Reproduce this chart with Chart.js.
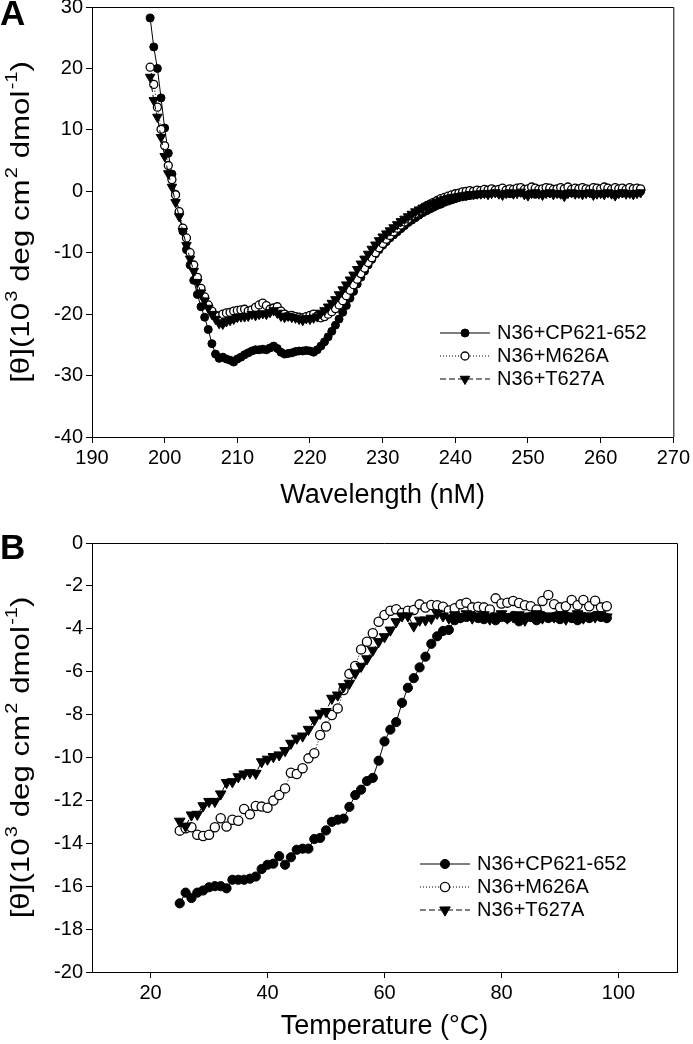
<!DOCTYPE html>
<html>
<head>
<meta charset="utf-8">
<script src="https://cdn.jsdelivr.net/npm/chart.js@4.4.1/dist/chart.umd.min.js"></script>
<style>
    body { margin: 0; background: #fff; width: 693px; height: 1044px; overflow: hidden; position: relative; }
    .panel { position: absolute; left: 0; width: 693px; }
    #boxA { top: -13px; height: 533px; }
    #boxB { top: 520px; height: 524px; }
</style>
</head>
<body>
<div class="panel" id="boxA"><canvas id="chartA"></canvas></div>
<div class="panel" id="boxB"><canvas id="chartB"></canvas></div>
<script>
const seriesNames = ['N36+CP621-652', 'N36+M626A', 'N36+T627A'];

// panel A: CD spectra, 198 - 265.5 nm every 0.5 nm
const wlStart = 198, wlStep = 0.5;
const cpSpectrum = [
    28.2, 23.5, 20.0, 15.2, 10.3, 6.2, 2.8, -0.5, -3.5, -6.5,
    -9.5, -12.0, -14.5, -16.8, -18.8, -20.5, -22.5, -24.8, -26.5, -27.2,
    -27.0, -27.3, -27.5, -27.8, -27.3, -27.0, -26.6, -26.3, -26.0, -25.8,
    -25.8, -25.7, -25.8, -25.5, -25.2, -25.6, -26.2, -26.5, -26.4, -26.3,
    -26.1, -26.0, -26.0, -25.9, -26.0, -26.2, -25.8, -25.2, -24.5, -23.7,
    -22.8, -21.8, -20.8, -19.7, -18.6, -17.4, -16.3, -15.1, -14.0, -13.0,
    -12.0, -11.1, -10.2, -9.5, -8.8, -8.2, -7.6, -7.1, -6.6, -6.1,
    -5.6, -5.1, -4.7, -4.3, -3.9, -3.5, -3.2, -2.9, -2.6, -2.3,
    -2.1, -1.8, -1.6, -1.4, -1.2, -1.0, -0.9, -0.8, -0.7, -0.6,
    -0.5, -0.4, -0.3, -0.3, -0.2, -0.1, -0.3, 0.0, -0.2, -0.4,
    -0.1, 0.1, -0.2, -0.3, 0.0, -0.1, -0.5, -0.2, 0.1, -0.1,
    -0.3, 0.0, -0.2, -0.4, 0.1, -0.1, -0.2, 0.0, -0.3, -0.1,
    0.2, -0.2, -0.4, 0.0, -0.1, -0.3, 0.1, -0.2, -0.1, 0.0,
    -0.3, -0.2, 0.1, -0.1, -0.2, 0.0
];
const m626aSpectrum = [
    20.2, 17.4, 13.7, 10.1, 7.4, 4.2, 1.9, -0.6, -3.3, -6.0,
    -7.6, -10.0, -12.0, -14.0, -15.8, -17.2, -18.5, -19.5, -20.2, -20.3,
    -20.0, -19.8, -19.7, -19.5, -19.4, -19.3, -19.2, -19.5, -19.3, -18.9,
    -18.5, -18.2, -18.6, -19.2, -19.0, -18.8, -19.5, -20.0, -20.3, -20.2,
    -20.4, -20.5, -20.6, -20.4, -20.2, -20.0, -20.3, -20.6, -20.4, -20.0,
    -19.6, -19.1, -18.5, -17.8, -17.0, -16.1, -15.2, -14.3, -13.4, -12.5,
    -11.6, -10.8, -10.0, -9.2, -8.5, -7.8, -7.2, -6.6, -6.0, -5.5,
    -5.0, -4.5, -4.0, -3.6, -3.2, -2.8, -2.4, -2.1, -1.8, -1.5,
    -1.2, -1.0, -0.8, -0.6, -0.4, -0.3, -0.1, 0.0, 0.1, 0.0,
    0.2, 0.1, 0.3, 0.2, 0.4, 0.2, 0.3, 0.5, 0.2, 0.4,
    0.3, 0.5, 0.6, 0.3, 0.4, 0.7, 0.5, 0.3, 0.4, 0.6,
    0.5, 0.3, 0.4, 0.6, 0.4, 0.7, 0.3, 0.5, 0.4, 0.6,
    0.4, 0.3, 0.6, 0.5, 0.4, 0.7, 0.5, 0.3, 0.6, 0.4,
    0.5, 0.3, 0.6, 0.4, 0.5, 0.4
];
const t627aSpectrum = [
    18.6, 14.8, 12.1, 8.8, 5.7, 2.9, 0.7, -1.8, -4.1, -6.5,
    -8.8, -11.0, -13.0, -14.8, -16.5, -17.8, -19.0, -20.0, -20.8, -21.5,
    -21.6, -21.2, -21.0, -20.8, -20.5, -20.4, -20.4, -20.3, -20.0, -20.2,
    -20.0, -19.9, -20.0, -19.7, -19.4, -19.8, -20.3, -20.5, -20.3, -20.5,
    -20.6, -20.8, -21.0, -20.7, -20.8, -20.6, -20.4, -19.8, -19.4, -18.8,
    -18.2, -17.6, -16.8, -16.0, -15.2, -14.4, -13.6, -12.7, -11.8, -11.0,
    -10.2, -9.4, -8.7, -8.0, -7.4, -6.9, -6.4, -5.9, -5.4, -4.9,
    -4.5, -4.1, -3.7, -3.3, -3.0, -2.7, -2.4, -2.1, -1.9, -1.7,
    -1.5, -1.3, -1.1, -1.0, -0.9, -0.8, -0.7, -0.6, -0.5, -0.5,
    -0.4, -0.4, -0.3, -0.5, -0.3, -0.2, -0.4, -0.6, -0.3, -0.2,
    -0.4, -0.3, -0.1, -0.5, -0.7, -0.3, -0.2, -0.4, -0.6, -0.3,
    -0.2, -0.5, -0.3, -0.4, -0.8, -0.3, -0.2, -0.4, -0.3, -0.5,
    -0.3, -0.2, -0.6, -0.4, -0.3, -0.5, -0.2, -0.4, -0.7, -0.3,
    -0.2, -0.4, -0.3, -0.5, -0.3, -0.2
];

// panel B: thermal melts, 25 - 98 C every 1 C
const tempStart = 25, tempStep = 1;
const cpMelt = [
    -16.8, -16.3, -16.55, -16.3, -16.2, -16.05, -16.0, -16.0, -16.1, -15.7,
    -15.7, -15.7, -15.65, -15.55, -15.2, -15.0, -14.95, -14.6, -15.0, -14.65,
    -14.3, -14.25, -14.25, -13.8, -13.75, -13.4, -13.0, -12.9, -12.85, -12.3,
    -11.75, -11.5, -11.1, -10.95, -10.15, -9.25, -8.7, -8.35, -7.45, -6.75,
    -6.3, -5.8, -5.3, -4.7, -4.35, -4.1, -4.05, -3.6, -3.5, -3.45,
    -3.4, -3.5, -3.55, -3.4, -3.6, -3.45, -3.5, -3.4, -3.65, -3.5,
    -3.45, -3.6, -3.4, -3.5, -3.45, -3.55, -3.4, -3.5, -3.6, -3.45,
    -3.5, -3.4, -3.45, -3.5
];
const m626aMelt = [
    -13.41, -13.3, -13.25, -13.6, -13.66, -13.6, -13.25, -12.83, -13.22, -12.9,
    -12.95, -12.4, -12.65, -12.26, -12.29, -12.34, -12.01, -11.75, -11.44, -10.71,
    -10.77, -10.5, -10.04, -9.8, -8.95, -8.56, -8.02, -7.71, -6.85, -6.1,
    -5.73, -4.96, -4.6, -4.21, -3.67, -3.36, -3.16, -3.09, -3.26, -3.16,
    -3.12, -2.86, -3.01, -2.89, -2.9, -2.97, -3.15, -3.04, -2.86, -2.78,
    -3.0, -2.97, -3.0, -3.1, -2.58, -2.82, -2.78, -2.7, -2.8, -2.9,
    -2.95, -3.1, -2.7, -2.42, -2.85, -3.0, -2.95, -2.66, -2.9, -2.66,
    -2.95, -2.69, -3.0, -2.95
];
const t627aMelt = [
    -12.97, -13.2, -12.68, -12.65, -12.25, -12.05, -12.05, -11.7, -11.17, -11.13,
    -10.9, -10.77, -10.71, -10.74, -10.2, -10.08, -9.96, -9.88, -9.68, -9.34,
    -9.1, -9.0, -8.69, -8.25, -7.94, -7.86, -7.24, -7.09, -6.7, -6.54,
    -6.07, -5.75, -5.4, -5.0, -4.6, -4.37, -4.06, -3.67, -3.4, -3.4,
    -3.87, -3.6, -3.59, -3.51, -3.28, -3.4, -3.5, -3.35, -3.45, -3.3,
    -3.5, -3.4, -3.35, -3.55, -3.4, -3.3, -3.5, -3.45, -3.35, -3.6,
    -3.4, -3.3, -3.5, -3.4, -3.45, -3.35, -3.55, -3.4, -3.3, -3.5,
    -3.4, -3.45, -3.35, -3.45
];

const ticksAx = [190, 200, 210, 220, 230, 240, 250, 260, 270];
const ticksAy = [-40, -30, -20, -10, 0, 10, 20, 30];
const ticksBx = [20, 40, 60, 80, 100];
const ticksBy = [-20, -18, -16, -14, -12, -10, -8, -6, -4, -2, 0];

// y title pieces: [text, superscript?]
const yTitleParts = [['[\u03B8](10', false], ['3', true], [' deg cm', false], ['2', true], [' dmol', false], ['-1', true], [')', false]];
const FONT = '"Liberation Sans", Arial, Helvetica, sans-serif';

function toPoints(start, step, values) {
    return values.map((v, i) => ({ x: start + i * step, y: v }));
}

function makeDatasets(series, start, step, r) {
    return [
        {
            label: seriesNames[0], data: toPoints(start, step, series[0]), order: 3,
            borderColor: '#000', borderWidth: 1, pointStyle: 'circle', pointRadius: r,
            pointBackgroundColor: '#000', pointBorderColor: '#000', pointBorderWidth: 1
        },
        {
            label: seriesNames[1], data: toPoints(start, step, series[1]), order: 2,
            borderColor: '#000', borderWidth: 1, borderDash: [1, 2], pointStyle: 'circle', pointRadius: r,
            pointBackgroundColor: '#fff', pointBorderColor: '#000', pointBorderWidth: 1.3
        },
        {
            label: seriesNames[2], data: toPoints(start, step, series[2]), order: 1,
            borderColor: '#000', borderWidth: 1, borderDash: [6, 3], pointStyle: 'triangle', rotation: 180,
            pointRadius: r + 1.5, pointBackgroundColor: '#000', pointBorderColor: '#000', pointBorderWidth: 1
        }
    ];
}

function drawYTitle(ctx, cx, cy) {
    const big = '25px ' + FONT, small = '16px ' + FONT;
    const stretch = 1.25;
    let total = 0;
    yTitleParts.forEach(([t, sup]) => { ctx.font = sup ? small : big; total += ctx.measureText(t).width + (sup ? 1 : 0); });
    ctx.save();
    ctx.translate(cx, cy);
    ctx.rotate(-Math.PI / 2);
    ctx.scale(stretch, 1);
    ctx.textBaseline = 'middle';
    let x = -total / 2;
    yTitleParts.forEach(([t, sup]) => {
        ctx.font = sup ? small : big;
        ctx.fillText(t, x + (sup ? 1 : 0), sup ? -9 : 0);
        x += ctx.measureText(t).width + (sup ? 1 : 0);
    });
    ctx.restore();
}

const overlay = {
    id: 'overlay',
    afterDraw(chart, args, o) {
        const { ctx, chartArea: a } = chart;
        ctx.save();
        ctx.strokeStyle = '#000';
        ctx.lineWidth = 1;
        ctx.beginPath();
        ctx.moveTo(a.left, a.top + 0.5);
        ctx.lineTo(a.right + 0.5, a.top + 0.5);
        ctx.lineTo(a.right + 0.5, a.bottom);
        ctx.stroke();

        ctx.fillStyle = '#000';
        drawYTitle(ctx, 22, (a.top + a.bottom) / 2);

        // panel letter
        ctx.font = 'bold 35px ' + FONT;
        ctx.textBaseline = 'alphabetic';
        ctx.fillText(o.letter, 0, o.letterY);

        // legend: line sample, marker, label
        ctx.font = '20px ' + FONT;
        ctx.textBaseline = 'middle';
        chart.data.datasets.forEach((ds, i) => {
            const y = o.legendY + i * 23;
            ctx.setLineDash(ds.borderDash || []);
            ctx.lineWidth = 1;
            ctx.strokeStyle = '#000';
            ctx.beginPath();
            ctx.moveTo(o.legendX, y);
            ctx.lineTo(o.legendX + 50, y);
            ctx.stroke();
            ctx.setLineDash([]);
            ctx.fillStyle = ds.pointBackgroundColor;
            ctx.strokeStyle = ds.pointBorderColor;
            ctx.lineWidth = ds.pointBorderWidth;
            Chart.helpers.drawPoint(ctx, {
                pointStyle: ds.pointStyle, rotation: ds.rotation || 0,
                radius: ds.pointRadius, borderWidth: ds.pointBorderWidth
            }, o.legendX + 25, y);
            ctx.fillStyle = '#000';
            ctx.fillText(ds.label, o.legendX + 57, y);
        });
        ctx.restore();
    }
};

function axis(min, max, tickValues, title, titlePad, fit) {
    return {
        type: 'linear', min: min, max: max,
        afterBuildTicks: s => { s.ticks = tickValues.map(v => ({ value: v })); },
        afterFit: fit,
        ticks: { color: '#000', font: { family: FONT, size: 20 }, padding: 3, callback: v => String(v) },
        grid: { drawOnChartArea: false, tickLength: 6, color: '#000' },
        border: { color: '#000', width: 1 },
        title: { display: !!title, text: title, color: '#000', font: { family: FONT, size: 27 }, padding: titlePad }
    };
}

function makePanel(canvasId, datasets, x, y, padTop, overlayOpts) {
    return new Chart(document.getElementById(canvasId), {
        type: 'line',
        data: { datasets: datasets },
        options: {
            responsive: true,
            maintainAspectRatio: false,
            animation: false,
            layout: { padding: { top: padTop, right: 16, left: 0, bottom: 0 } },
            plugins: { legend: { display: false }, tooltip: { enabled: false }, overlay: overlayOpts },
            scales: { x: x, y: y }
        },
        plugins: [overlay]
    });
}

makePanel('chartA',
    makeDatasets([cpSpectrum, m626aSpectrum, t627aSpectrum], wlStart, wlStep, 4),
    axis(190, 270, ticksAx, 'Wavelength (nM)', { top: 0, bottom: 8 }, s => { s.height = 83; }),
    axis(-40, 30, ticksAy, '', 0, s => { s.width = 92; }),
    20,
    { letter: 'A', letterY: 38, legendX: 440, legendY: 346 }
);

makePanel('chartB',
    makeDatasets([cpMelt, m626aMelt, t627aMelt], tempStart, tempStep, 4.6),
    axis(10, 110, ticksBx, 'Temperature (\u00B0C)', { top: 0, bottom: 1 }, s => { s.height = 72; }),
    axis(-20, 0, ticksBy, '', 0, s => { s.width = 92; }),
    23,
    { letter: 'B', letterY: 39, legendX: 420, legendY: 344 }
);
</script>
</body>
</html>
